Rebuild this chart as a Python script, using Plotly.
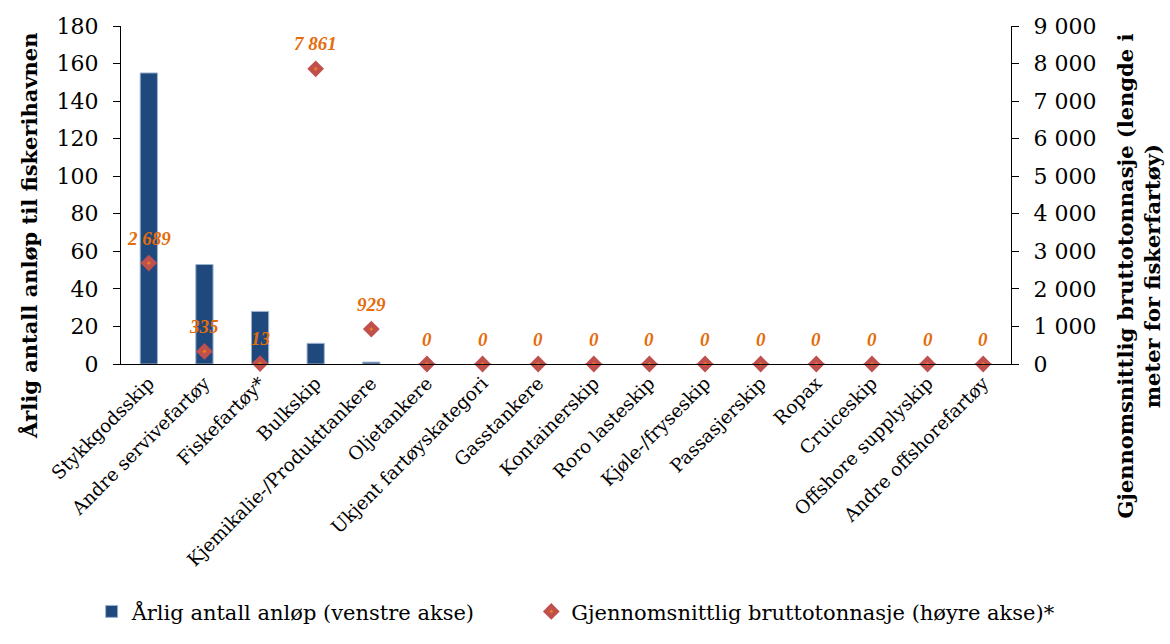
import plotly.graph_objects as go

# Vessel categories and their values
categories = [
    "Stykkgodsskip", "Andre servivefartøy", "Fiskefartøy*", "Bulkskip",
    "Kjemikalie-/Produkttankere", "Oljetankere", "Ukjent fartøyskategori",
    "Gasstankere", "Kontainerskip", "Roro lasteskip", "Kjøle-/fryseskip",
    "Passasjerskip", "Ropax", "Cruiceskip", "Offshore supplyskip",
    "Andre offshorefartøy",
]
annual_calls = [155, 53, 28, 11, 1, 0, 0, 0, 0, 0, 0, 0, 0, 0, 0, 0]
avg_tonnage = [2689, 335, 13, 7861, 929, 0, 0, 0, 0, 0, 0, 0, 0, 0, 0, 0]

left_ticks = [0, 20, 40, 60, 80, 100, 120, 140, 160, 180]
right_ticks = [0, 1000, 2000, 3000, 4000, 5000, 6000, 7000, 8000, 9000]

bar_name = "Årlig antall anløp (venstre akse)"
marker_name = "Gjennomsnittlig bruttotonnasje (høyre akse)*"
left_title = "Årlig antall anløp til fiskerihavnen"
right_title = "Gjennomsnittlig bruttotonnasje (lengde i<br>meter for fiskerfartøy)"


def spaced(v):
    return f"{v:,}".replace(",", " ")


FONT = "DejaVu Serif"
LABEL_FONT = "Liberation Serif"
BLUE = "#1F497D"
RED = "#C0504D"
ORANGE = "#E46C0A"

fig = go.Figure()

fig.add_trace(go.Bar(
    x=categories, y=annual_calls, name=bar_name, yaxis="y",
    marker=dict(color=BLUE, line=dict(color="#9DB3CF", width=1)),
    legend="legend",
))

fig.add_trace(go.Scatter(
    x=categories, y=avg_tonnage, name=marker_name, yaxis="y2",
    mode="markers", cliponaxis=False,
    marker=dict(symbol="diamond", size=8, color="#EE7A1E",
                line=dict(color=RED, width=4.5)),
    legend="legend2",
))

# Value labels above the diamonds
for cat, val in zip(categories, avg_tonnage):
    fig.add_annotation(
        x=cat, y=val, xref="x", yref="y2", text=spaced(val),
        showarrow=False, yshift=25,
        font=dict(family=LABEL_FONT, size=19, color=ORANGE,
                  weight="bold", style="italic"),
    )

# Axis titles
fig.add_annotation(
    x=-0.102, y=0.379, xref="paper", yref="paper", text=left_title,
    textangle=-90, showarrow=False, xanchor="center", yanchor="middle",
    font=dict(family=FONT, size=21, color="black", weight="bold"),
)
fig.add_annotation(
    x=1.144, y=0.259, xref="paper", yref="paper", text=right_title,
    textangle=-90, showarrow=False, xanchor="center", yanchor="middle",
    font=dict(family=FONT, size=21, color="black", weight="bold"),
)

axis_common = dict(
    showgrid=False, zeroline=False, showline=True, linecolor="black",
    linewidth=1.3, ticks="outside", ticklen=7, tickcolor="black",
    tickwidth=1.3, tickfont=dict(family=FONT, size=22, color="black"),
    ticklabelstandoff=10,
)

fig.update_layout(
    width=1170, height=644,
    margin=dict(l=121, r=159, t=26, b=270),
    plot_bgcolor="white", paper_bgcolor="white",
    font=dict(family=FONT, color="black"),
    bargap=0.69,
    showlegend=True,
    xaxis=dict(
        range=[-0.5, len(categories) - 0.5],
        showgrid=False, zeroline=False, showline=True, linecolor="black",
        linewidth=1.3, ticks="", tickangle=-45,
        tickfont=dict(family=FONT, size=18.5, color="black"),
    ),
    yaxis=dict(range=[0, 180], tickvals=left_ticks, **axis_common),
    yaxis2=dict(
        range=[0, 9000], overlaying="y", side="right",
        tickvals=right_ticks, ticktext=[spaced(v) for v in right_ticks],
        **axis_common,
    ),
    legend=dict(
        orientation="h", x=-0.033, xanchor="left", y=-0.733, yanchor="middle",
        font=dict(family=FONT, size=21, color="black"), bgcolor="rgba(0,0,0,0)",
    ),
    legend2=dict(
        orientation="h", x=0.461, xanchor="left", y=-0.733, yanchor="middle",
        font=dict(family=FONT, size=21, color="black"), bgcolor="rgba(0,0,0,0)",
    ),
)

fig.write_html("out.html")
